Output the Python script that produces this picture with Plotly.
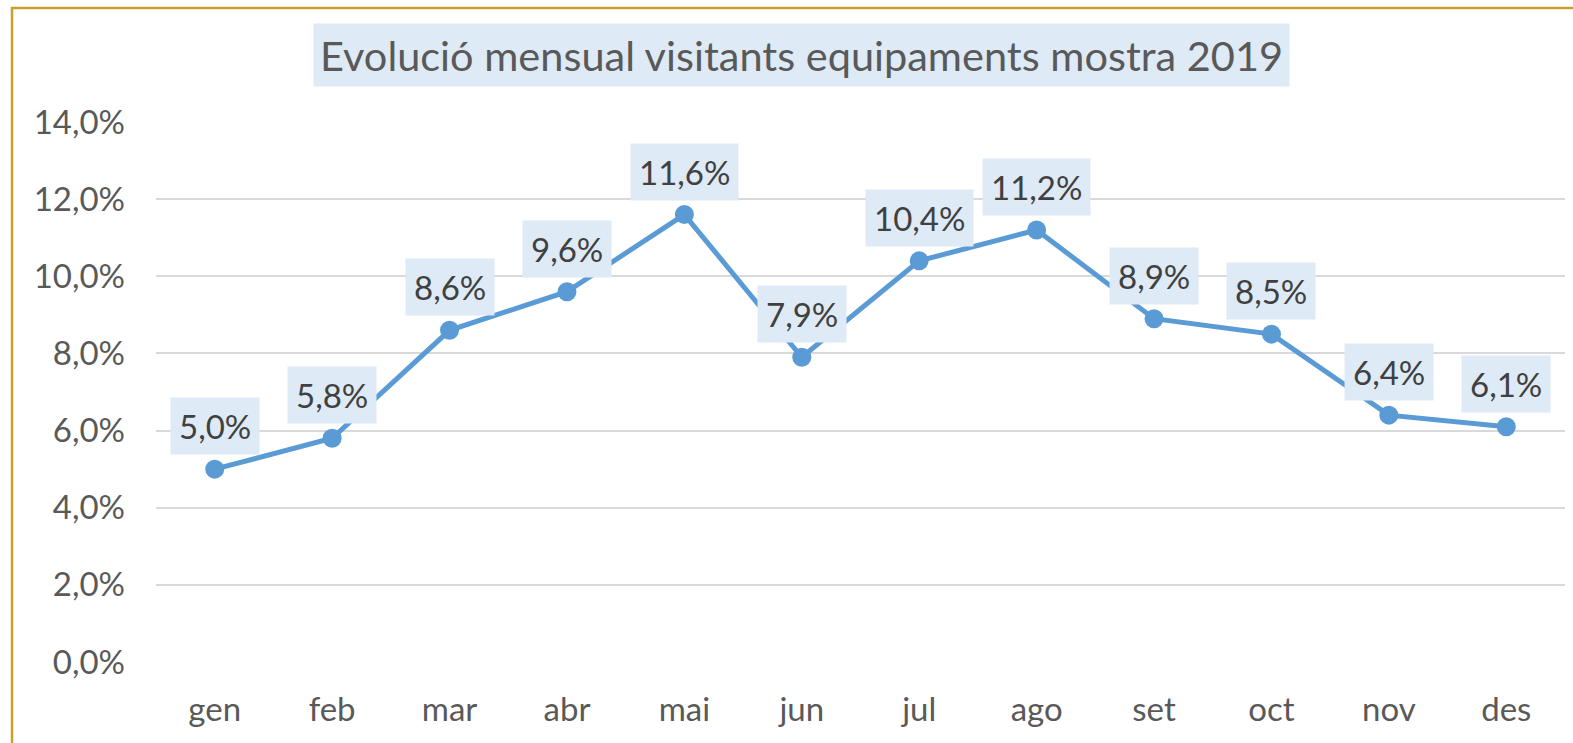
import plotly.graph_objects as go

months = ["gen", "feb", "mar", "abr", "mai", "jun", "jul", "ago", "set", "oct", "nov", "des"]
values = [0.050, 0.058, 0.086, 0.096, 0.116, 0.079, 0.104, 0.112, 0.089, 0.085, 0.064, 0.061]
title_text = "Evolució mensual visitants equipaments mostra 2019"

FONT = "Lato, Open Sans, sans-serif"
LINE = "#5B9BD5"
BOXBG = "#DEEAF6"

pw, ph, l, t = 1409, 540, 156, 122

fig = go.Figure()
fig.add_trace(go.Scatter(
    x=months, y=values, mode="lines+markers",
    line=dict(color=LINE, width=5),
    marker=dict(color=LINE, size=19),
    hoverinfo="skip", showlegend=False,
))

for m, v in zip(months, values):
    fig.add_annotation(
        x=m, y=v, xref="x", yref="y",
        text=f"{v*100:.1f}%".replace(".", ","),
        showarrow=False, yshift=43,
        font=dict(family=FONT, size=33, color="#404040"),
        bgcolor=BOXBG, borderpad=8,
    )

fig.add_annotation(
    x=(801 - l) / pw, y=1 + (t - 55) / ph, xref="paper", yref="paper",
    xanchor="center", yanchor="middle",
    text=title_text, showarrow=False,
    font=dict(family=FONT, size=41.5, color="#595959"),
    bgcolor=BOXBG, borderpad=6,
)

fig.add_shape(
    type="rect", xref="paper", yref="paper",
    x0=(12 - l) / pw, x1=1.2, y0=-0.5, y1=1 + (t - 8) / ph,
    line=dict(color="#C9A02A", width=2.5), layer="below",
)

fig.update_layout(
    width=1573, height=743,
    margin=dict(l=l, r=8, t=t, b=81, autoexpand=False),
    paper_bgcolor="white", plot_bgcolor="white",
    separators=",.",
    font=dict(family=FONT, color="#595959", size=33),
)
fig.update_xaxes(
    type="category", range=[-0.5, 11.5], showgrid=False, showline=False,
    ticks="", tickfont=dict(size=33, color="#595959"), ticklabelstandoff=25,
    automargin=False,
)
fig.update_yaxes(
    range=[0, 0.14], dtick=0.02, tickformat=".1%",
    showgrid=True, gridcolor="#D9D9D9", gridwidth=1.5,
    zeroline=False, showline=False, ticks="",
    tickfont=dict(size=33, color="#595959"), ticklabelstandoff=30,
    automargin=False,
)

fig.write_html(
    "out.html",
    config={"displayModeBar": False},
    post_script="document.body.style.margin='0';document.body.style.overflow='hidden';",
)
